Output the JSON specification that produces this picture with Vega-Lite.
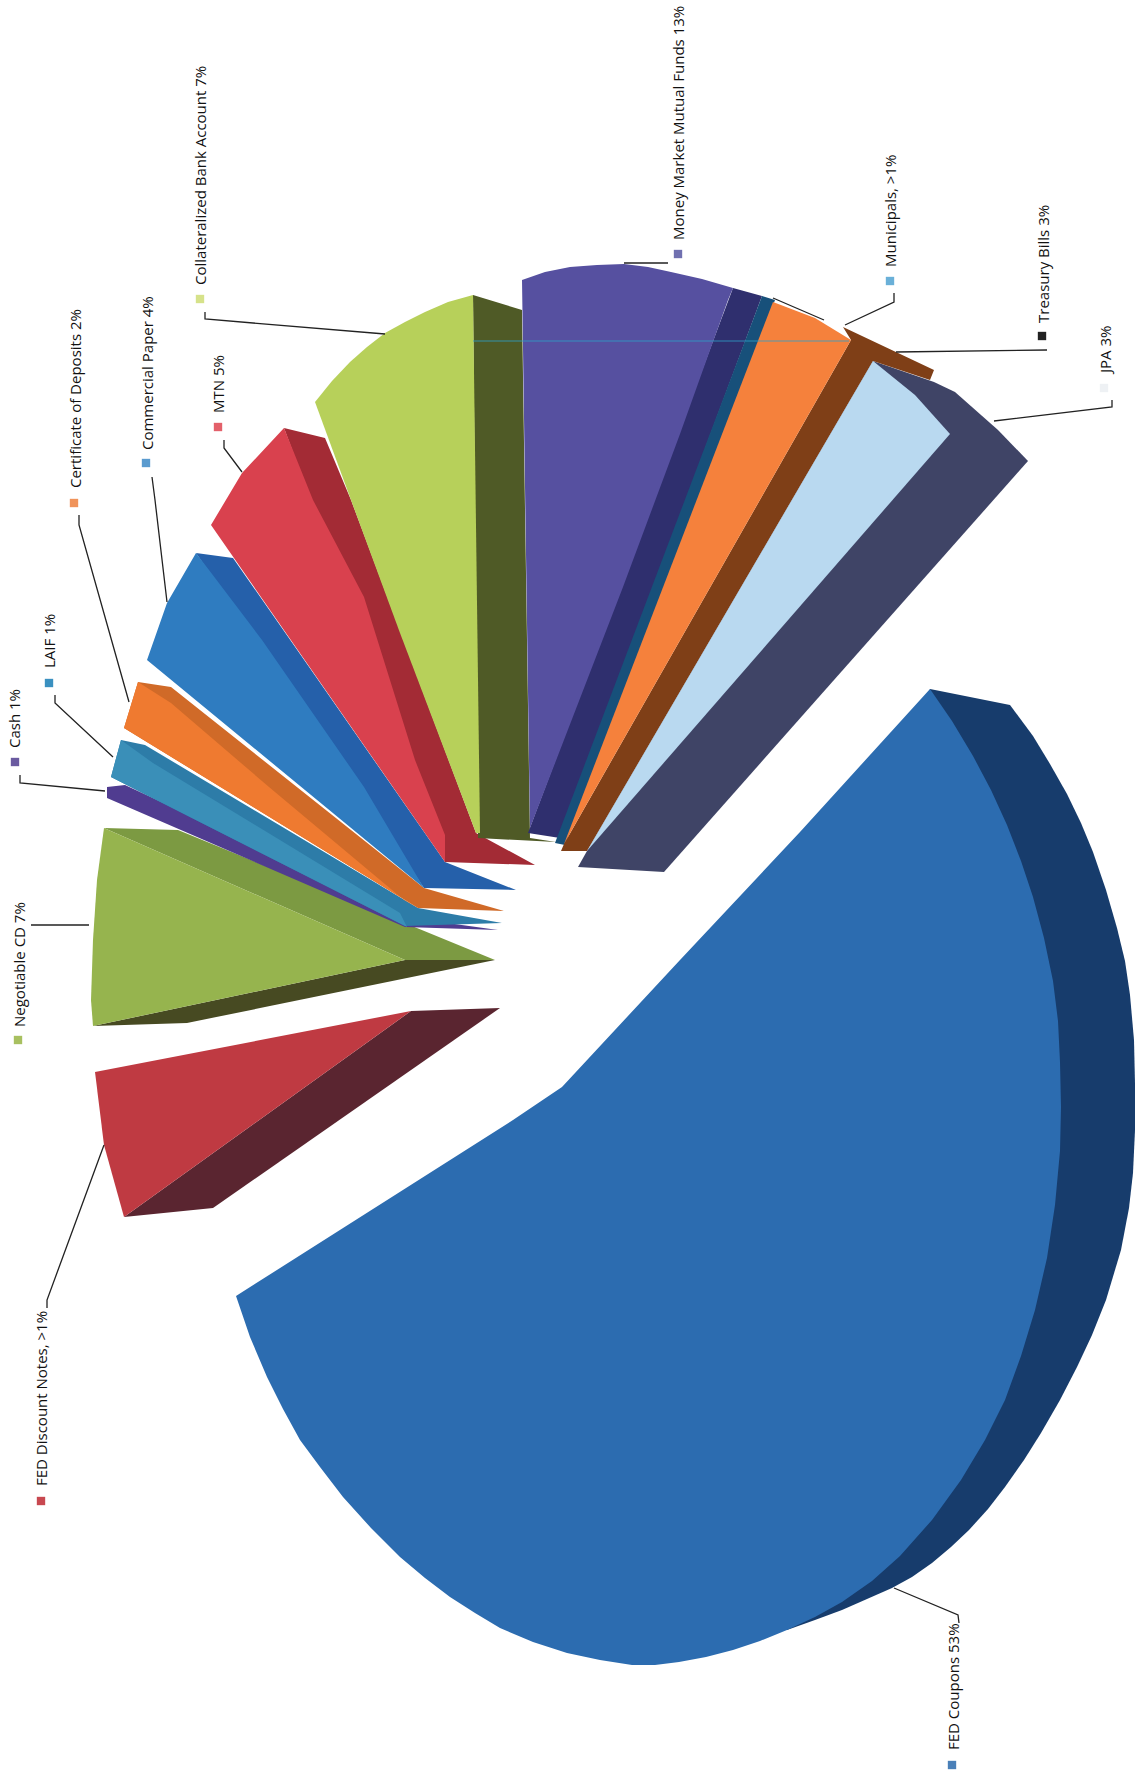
{"$schema":"https://vega.github.io/schema/vega-lite/v6.json","width":1138,"height":1775,"padding":0,"autosize":{"type":"fit","contains":"padding"},"background":"white","config":{"view":{"stroke":null}},
"datasets":{
"faces":[
{"face":"FED Coupons side","i":1,"x":930,"y":689},{"face":"FED Coupons side","i":2,"x":1010,"y":705},{"face":"FED Coupons side","i":3,"x":1033,"y":736},{"face":"FED Coupons side","i":4,"x":1050,"y":764},{"face":"FED Coupons side","i":5,"x":1067,"y":794},{"face":"FED Coupons side","i":6,"x":1081,"y":823},{"face":"FED Coupons side","i":7,"x":1093,"y":852},{"face":"FED Coupons side","i":8,"x":1106,"y":890},{"face":"FED Coupons side","i":9,"x":1117,"y":928},{"face":"FED Coupons side","i":10,"x":1125,"y":961},{"face":"FED Coupons side","i":11,"x":1130,"y":995},{"face":"FED Coupons side","i":12,"x":1134,"y":1040},{"face":"FED Coupons side","i":13,"x":1135,"y":1084},{"face":"FED Coupons side","i":14,"x":1135,"y":1130},{"face":"FED Coupons side","i":15,"x":1133,"y":1173},{"face":"FED Coupons side","i":16,"x":1129,"y":1208},{"face":"FED Coupons side","i":17,"x":1121,"y":1250},{"face":"FED Coupons side","i":18,"x":1106,"y":1300},{"face":"FED Coupons side","i":19,"x":1092,"y":1335},{"face":"FED Coupons side","i":20,"x":1077,"y":1367},{"face":"FED Coupons side","i":21,"x":1060,"y":1400},{"face":"FED Coupons side","i":22,"x":1041,"y":1433},{"face":"FED Coupons side","i":23,"x":1024,"y":1460},{"face":"FED Coupons side","i":24,"x":1005,"y":1487},{"face":"FED Coupons side","i":25,"x":988,"y":1509},{"face":"FED Coupons side","i":26,"x":969,"y":1530},{"face":"FED Coupons side","i":27,"x":951,"y":1547},{"face":"FED Coupons side","i":28,"x":932,"y":1563},{"face":"FED Coupons side","i":29,"x":912,"y":1577},{"face":"FED Coupons side","i":30,"x":892,"y":1588},{"face":"FED Coupons side","i":31,"x":867,"y":1599},{"face":"FED Coupons side","i":32,"x":842,"y":1610},{"face":"FED Coupons side","i":33,"x":815,"y":1620},{"face":"FED Coupons side","i":34,"x":787,"y":1630},{"face":"FED Coupons side","i":35,"x":800,"y":1200},
{"face":"FED Coupons","i":1,"x":562,"y":1087},{"face":"FED Coupons","i":2,"x":680,"y":960},{"face":"FED Coupons","i":3,"x":800,"y":832},{"face":"FED Coupons","i":4,"x":930,"y":689},{"face":"FED Coupons","i":5,"x":952,"y":721},{"face":"FED Coupons","i":6,"x":973,"y":756},{"face":"FED Coupons","i":7,"x":991,"y":790},{"face":"FED Coupons","i":8,"x":1007,"y":825},{"face":"FED Coupons","i":9,"x":1021,"y":861},{"face":"FED Coupons","i":10,"x":1033,"y":897},{"face":"FED Coupons","i":11,"x":1044,"y":938},{"face":"FED Coupons","i":12,"x":1053,"y":981},{"face":"FED Coupons","i":13,"x":1058,"y":1021},{"face":"FED Coupons","i":14,"x":1060,"y":1062},{"face":"FED Coupons","i":15,"x":1061,"y":1107},{"face":"FED Coupons","i":16,"x":1060,"y":1151},{"face":"FED Coupons","i":17,"x":1055,"y":1205},{"face":"FED Coupons","i":18,"x":1047,"y":1258},{"face":"FED Coupons","i":19,"x":1035,"y":1310},{"face":"FED Coupons","i":20,"x":1021,"y":1356},{"face":"FED Coupons","i":21,"x":1005,"y":1400},{"face":"FED Coupons","i":22,"x":985,"y":1440},{"face":"FED Coupons","i":23,"x":961,"y":1480},{"face":"FED Coupons","i":24,"x":932,"y":1520},{"face":"FED Coupons","i":25,"x":900,"y":1556},{"face":"FED Coupons","i":26,"x":872,"y":1581},{"face":"FED Coupons","i":27,"x":842,"y":1602},{"face":"FED Coupons","i":28,"x":815,"y":1617},{"face":"FED Coupons","i":29,"x":787,"y":1630},{"face":"FED Coupons","i":30,"x":760,"y":1641},{"face":"FED Coupons","i":31,"x":733,"y":1650},{"face":"FED Coupons","i":32,"x":706,"y":1657},{"face":"FED Coupons","i":33,"x":679,"y":1662},{"face":"FED Coupons","i":34,"x":655,"y":1665},{"face":"FED Coupons","i":35,"x":632,"y":1665},{"face":"FED Coupons","i":36,"x":600,"y":1660},{"face":"FED Coupons","i":37,"x":567,"y":1653},{"face":"FED Coupons","i":38,"x":533,"y":1642},{"face":"FED Coupons","i":39,"x":500,"y":1628},{"face":"FED Coupons","i":40,"x":475,"y":1613},{"face":"FED Coupons","i":41,"x":450,"y":1597},{"face":"FED Coupons","i":42,"x":425,"y":1578},{"face":"FED Coupons","i":43,"x":400,"y":1557},{"face":"FED Coupons","i":44,"x":371,"y":1528},{"face":"FED Coupons","i":45,"x":343,"y":1497},{"face":"FED Coupons","i":46,"x":320,"y":1467},{"face":"FED Coupons","i":47,"x":300,"y":1440},{"face":"FED Coupons","i":48,"x":283,"y":1409},{"face":"FED Coupons","i":49,"x":267,"y":1377},{"face":"FED Coupons","i":50,"x":250,"y":1337},{"face":"FED Coupons","i":51,"x":236,"y":1296},{"face":"FED Coupons","i":52,"x":513,"y":1120},
{"face":"FED Discount side","i":1,"x":411,"y":1011},{"face":"FED Discount side","i":2,"x":500,"y":1008},{"face":"FED Discount side","i":3,"x":213,"y":1208},{"face":"FED Discount side","i":4,"x":124,"y":1217},
{"face":"FED Discount","i":1,"x":95,"y":1072},{"face":"FED Discount","i":2,"x":411,"y":1011},{"face":"FED Discount","i":3,"x":124,"y":1217},{"face":"FED Discount","i":4,"x":104,"y":1145},
{"face":"Negotiable CD under","i":1,"x":93,"y":1026},{"face":"Negotiable CD under","i":2,"x":405,"y":960},{"face":"Negotiable CD under","i":3,"x":495,"y":960},{"face":"Negotiable CD under","i":4,"x":187,"y":1023},
{"face":"Negotiable CD side","i":1,"x":104,"y":828},{"face":"Negotiable CD side","i":2,"x":178,"y":830},{"face":"Negotiable CD side","i":3,"x":495,"y":960},{"face":"Negotiable CD side","i":4,"x":405,"y":960},
{"face":"Negotiable CD","i":1,"x":104,"y":828},{"face":"Negotiable CD","i":2,"x":97,"y":880},{"face":"Negotiable CD","i":3,"x":93,"y":940},{"face":"Negotiable CD","i":4,"x":91,"y":1000},{"face":"Negotiable CD","i":5,"x":93,"y":1026},{"face":"Negotiable CD","i":6,"x":405,"y":960},
{"face":"Cash","i":1,"x":107,"y":787},{"face":"Cash","i":2,"x":107,"y":798},{"face":"Cash","i":3,"x":405,"y":927},{"face":"Cash","i":4,"x":498,"y":930},{"face":"Cash","i":5,"x":411,"y":918},{"face":"Cash","i":6,"x":125,"y":785},
{"face":"LAIF side","i":1,"x":121,"y":740},{"face":"LAIF side","i":2,"x":145,"y":745},{"face":"LAIF side","i":3,"x":418,"y":908},{"face":"LAIF side","i":4,"x":502,"y":923},{"face":"LAIF side","i":5,"x":405,"y":926},{"face":"LAIF side","i":6,"x":111,"y":777},
{"face":"LAIF","i":1,"x":121,"y":740},{"face":"LAIF","i":2,"x":111,"y":777},{"face":"LAIF","i":3,"x":407,"y":927},{"face":"LAIF","i":4,"x":400,"y":913},{"face":"LAIF","i":5,"x":153,"y":763},
{"face":"Certificate side","i":1,"x":138,"y":682},{"face":"Certificate side","i":2,"x":171,"y":687},{"face":"Certificate side","i":3,"x":424,"y":888},{"face":"Certificate side","i":4,"x":504,"y":911},{"face":"Certificate side","i":5,"x":418,"y":908},{"face":"Certificate side","i":6,"x":124,"y":728},
{"face":"Certificate","i":1,"x":138,"y":682},{"face":"Certificate","i":2,"x":124,"y":728},{"face":"Certificate","i":3,"x":418,"y":908},{"face":"Certificate","i":4,"x":404,"y":900},{"face":"Certificate","i":5,"x":269,"y":787},{"face":"Certificate","i":6,"x":171,"y":703},
{"face":"Commercial side","i":1,"x":196,"y":553},{"face":"Commercial side","i":2,"x":233,"y":558},{"face":"Commercial side","i":3,"x":445,"y":862},{"face":"Commercial side","i":4,"x":516,"y":890},{"face":"Commercial side","i":5,"x":424,"y":888},
{"face":"Commercial","i":1,"x":196,"y":553},{"face":"Commercial","i":2,"x":167,"y":603},{"face":"Commercial","i":3,"x":147,"y":660},{"face":"Commercial","i":4,"x":424,"y":888},{"face":"Commercial","i":5,"x":415,"y":873},{"face":"Commercial","i":6,"x":364,"y":787},{"face":"Commercial","i":7,"x":262,"y":640},{"face":"Commercial","i":8,"x":209,"y":570},
{"face":"MTN side","i":1,"x":284,"y":428},{"face":"MTN side","i":2,"x":325,"y":438},{"face":"MTN side","i":3,"x":351,"y":500},{"face":"MTN side","i":4,"x":476,"y":833},{"face":"MTN side","i":5,"x":535,"y":865},{"face":"MTN side","i":6,"x":445,"y":862},
{"face":"MTN","i":1,"x":284,"y":428},{"face":"MTN","i":2,"x":242,"y":473},{"face":"MTN","i":3,"x":211,"y":525},{"face":"MTN","i":4,"x":445,"y":862},{"face":"MTN","i":5,"x":445,"y":835},{"face":"MTN","i":6,"x":415,"y":760},{"face":"MTN","i":7,"x":364,"y":597},{"face":"MTN","i":8,"x":313,"y":500},
{"face":"Collateralized side","i":1,"x":473,"y":295},{"face":"Collateralized side","i":2,"x":522,"y":310},{"face":"Collateralized side","i":3,"x":530,"y":838},{"face":"Collateralized side","i":4,"x":556,"y":842},{"face":"Collateralized side","i":5,"x":478,"y":838},
{"face":"Collateralized","i":1,"x":473,"y":295},{"face":"Collateralized","i":2,"x":448,"y":302},{"face":"Collateralized","i":3,"x":425,"y":312},{"face":"Collateralized","i":4,"x":405,"y":322},{"face":"Collateralized","i":5,"x":385,"y":333},{"face":"Collateralized","i":6,"x":367,"y":347},{"face":"Collateralized","i":7,"x":350,"y":362},{"face":"Collateralized","i":8,"x":332,"y":381},{"face":"Collateralized","i":9,"x":315,"y":402},{"face":"Collateralized","i":10,"x":351,"y":500},{"face":"Collateralized","i":11,"x":400,"y":633},{"face":"Collateralized","i":12,"x":476,"y":833},{"face":"Collateralized","i":13,"x":480,"y":833},
{"face":"Money Market side","i":1,"x":733,"y":288},{"face":"Money Market side","i":2,"x":762,"y":296},{"face":"Money Market side","i":3,"x":560,"y":838},{"face":"Money Market side","i":4,"x":528,"y":833},
{"face":"Money Market","i":1,"x":522,"y":280},{"face":"Money Market","i":2,"x":545,"y":272},{"face":"Money Market","i":3,"x":570,"y":267},{"face":"Money Market","i":4,"x":597,"y":265},{"face":"Money Market","i":5,"x":624,"y":264},{"face":"Money Market","i":6,"x":648,"y":267},{"face":"Money Market","i":7,"x":671,"y":272},{"face":"Money Market","i":8,"x":702,"y":279},{"face":"Money Market","i":9,"x":733,"y":288},{"face":"Money Market","i":10,"x":728,"y":300},{"face":"Money Market","i":11,"x":680,"y":434},{"face":"Money Market","i":12,"x":623,"y":587},{"face":"Money Market","i":13,"x":530,"y":828},
{"face":"Municipals","i":1,"x":762,"y":296},{"face":"Municipals","i":2,"x":775,"y":300},{"face":"Municipals","i":3,"x":565,"y":845},{"face":"Municipals","i":4,"x":555,"y":843},
{"face":"JPA side","i":1,"x":873,"y":361},{"face":"JPA side","i":2,"x":934,"y":382},{"face":"JPA side","i":3,"x":955,"y":392},{"face":"JPA side","i":4,"x":998,"y":430},{"face":"JPA side","i":5,"x":1028,"y":461},{"face":"JPA side","i":6,"x":664,"y":872},{"face":"JPA side","i":7,"x":578,"y":867},{"face":"JPA side","i":8,"x":587,"y":851},
{"face":"Treasury side","i":1,"x":851,"y":340},{"face":"Treasury side","i":2,"x":843,"y":327},{"face":"Treasury side","i":3,"x":934,"y":370},{"face":"Treasury side","i":4,"x":930,"y":380},{"face":"Treasury side","i":5,"x":873,"y":361},{"face":"Treasury side","i":6,"x":587,"y":851},{"face":"Treasury side","i":7,"x":561,"y":851},{"face":"Treasury side","i":8,"x":564,"y":844},
{"face":"Treasury","i":1,"x":773,"y":302},{"face":"Treasury","i":2,"x":815,"y":318},{"face":"Treasury","i":3,"x":851,"y":340},{"face":"Treasury","i":4,"x":564,"y":844},
{"face":"JPA","i":1,"x":873,"y":361},{"face":"JPA","i":2,"x":915,"y":395},{"face":"JPA","i":3,"x":950,"y":434},{"face":"JPA","i":4,"x":587,"y":851}
],
"leaders":[
{"label":"FED Coupons","i":1,"x":894,"y":1588},{"label":"FED Coupons","i":2,"x":958,"y":1615},{"label":"FED Coupons","i":3,"x":959,"y":1623},
{"label":"FED Discount Notes","i":1,"x":104,"y":1145},{"label":"FED Discount Notes","i":2,"x":47,"y":1300},{"label":"FED Discount Notes","i":3,"x":47,"y":1308},
{"label":"Negotiable CD","i":1,"x":31,"y":925},{"label":"Negotiable CD","i":2,"x":89,"y":925},
{"label":"Cash","i":1,"x":20,"y":775},{"label":"Cash","i":2,"x":20,"y":783},{"label":"Cash","i":3,"x":105,"y":791},
{"label":"LAIF","i":1,"x":55,"y":695},{"label":"LAIF","i":2,"x":55,"y":703},{"label":"LAIF","i":3,"x":113,"y":757},
{"label":"Certificate","i":1,"x":79,"y":515},{"label":"Certificate","i":2,"x":79,"y":525},{"label":"Certificate","i":3,"x":129,"y":702},
{"label":"Commercial","i":1,"x":152,"y":477},{"label":"Commercial","i":2,"x":155,"y":500},{"label":"Commercial","i":3,"x":167,"y":602},
{"label":"MTN","i":1,"x":224,"y":440},{"label":"MTN","i":2,"x":224,"y":448},{"label":"MTN","i":3,"x":242,"y":472},
{"label":"Collateralized","i":1,"x":205,"y":312},{"label":"Collateralized","i":2,"x":205,"y":319},{"label":"Collateralized","i":3,"x":385,"y":334},
{"label":"Money Market","i":1,"x":668,"y":263},{"label":"Money Market","i":2,"x":624,"y":263},
{"label":"Municipals","i":1,"x":894,"y":293},{"label":"Municipals","i":2,"x":894,"y":302},{"label":"Municipals","i":3,"x":845,"y":325},
{"label":"Treasury","i":1,"x":1047,"y":350},{"label":"Treasury","i":2,"x":896,"y":352},
{"label":"JPA","i":1,"x":1112,"y":400},{"label":"JPA","i":2,"x":1112,"y":407},{"label":"JPA","i":3,"x":994,"y":421},
{"label":"Treasury top edge","i":1,"x":773,"y":298},{"label":"Treasury top edge","i":2,"x":824,"y":320}
],
"labels":[
{"face":"FED Coupons","text":"FED Coupons 53%","x":954,"y":1750,"mx":952,"my":1765},
{"face":"FED Discount","text":"FED Discount Notes, >1%","x":42,"y":1486,"mx":41,"my":1501},
{"face":"Negotiable CD","text":"Negotiable CD 7%","x":20,"y":1027,"mx":18,"my":1040},
{"face":"Cash","text":"Cash 1%","x":15,"y":748,"mx":15,"my":762},
{"face":"LAIF","text":"LAIF 1%","x":50,"y":668,"mx":49,"my":683},
{"face":"Certificate","text":"Certificate of Deposits 2%","x":76,"y":488,"mx":74,"my":503},
{"face":"Commercial","text":"Commercial Paper 4%","x":148,"y":450,"mx":146,"my":463},
{"face":"MTN","text":"MTN 5%","x":219,"y":413,"mx":218,"my":427},
{"face":"Collateralized","text":"Collateralized Bank Account 7%","x":201,"y":285,"mx":200,"my":299},
{"face":"Money Market","text":"Money Market Mutual Funds 13%","x":679,"y":240,"mx":678,"my":254},
{"face":"Municipals","text":"Municipals, >1%","x":891,"y":267,"mx":890,"my":281},
{"face":"Treasury","text":"Treasury Bills 3%","x":1044,"y":323,"mx":1042,"my":336},
{"face":"JPA","text":"JPA 3%","x":1106,"y":373,"mx":1104,"my":388}
],
"scanline":[{"x":473,"y":341},{"x":849,"y":341}]
},
"encoding":{
"x":{"field":"x","type":"quantitative","axis":null,"scale":{"domain":[0,1138],"nice":false,"zero":false}},
"y":{"field":"y","type":"quantitative","axis":null,"scale":{"domain":[0,1775],"reverse":true,"nice":false,"zero":false}}
},
"layer":[
{"data":{"name":"faces"},"mark":{"type":"line","filled":true,"strokeWidth":0},
 "encoding":{"order":{"field":"i","type":"quantitative"},
 "fill":{"field":"face","type":"nominal","legend":null,"scale":{
 "domain":["FED Coupons side","FED Coupons","FED Discount side","FED Discount","Negotiable CD under","Negotiable CD side","Negotiable CD","Cash","LAIF side","LAIF","Certificate side","Certificate","Commercial side","Commercial","MTN side","MTN","Collateralized side","Collateralized","Money Market side","Money Market","Municipals","JPA side","Treasury side","Treasury","JPA"],
 "range":["#173c6c","#2c6cb0","#5a2530","#bf3a42","#474a22","#7c9a42","#96b44e","#503c90","#2d7ca8","#3a8fb8","#d06a28","#ef7a30","#2560aa","#2f7cc0","#a32b35","#d9414e","#4f5a26","#b7d05a","#2f2f6e","#5650a0","#17507a","#3f4466","#7f3f17","#f5813c","#b9d9f0"]}},
 "detail":{"field":"face"}}},
{"data":{"name":"scanline"},"mark":{"type":"line","color":"#2f9fc8","strokeWidth":1.5,"opacity":0.55},"encoding":{}},
{"data":{"name":"leaders"},"mark":{"type":"line","color":"#222222","strokeWidth":1.3},
 "encoding":{"detail":{"field":"label"},"order":{"field":"i","type":"quantitative"}}},
{"data":{"name":"labels"},"mark":{"type":"text","angle":270,"align":"left","baseline":"middle","font":"Open Sans","fontSize":15,"color":"#111111"},
 "encoding":{"text":{"field":"text"}}},
{"data":{"name":"labels"},"mark":{"type":"square","size":70,"opacity":1},
 "encoding":{"x":{"field":"mx","type":"quantitative"},"y":{"field":"my","type":"quantitative"},
 "fill":{"field":"face","type":"nominal","legend":null,"scale":{"domain":["FED Coupons","FED Discount","Negotiable CD","Cash","LAIF","Certificate","Commercial","MTN","Collateralized","Money Market","Municipals","Treasury","JPA"],"range":["#4a80b8","#c84850","#a8c060","#6a5aa0","#3a90c0","#f0935a","#5a9bcf","#e3606a","#d6e28a","#7070b0","#6ab0d8","#222222","#eef1f4"]}}}}
],
"resolve":{"scale":{"fill":"independent"}}
}
